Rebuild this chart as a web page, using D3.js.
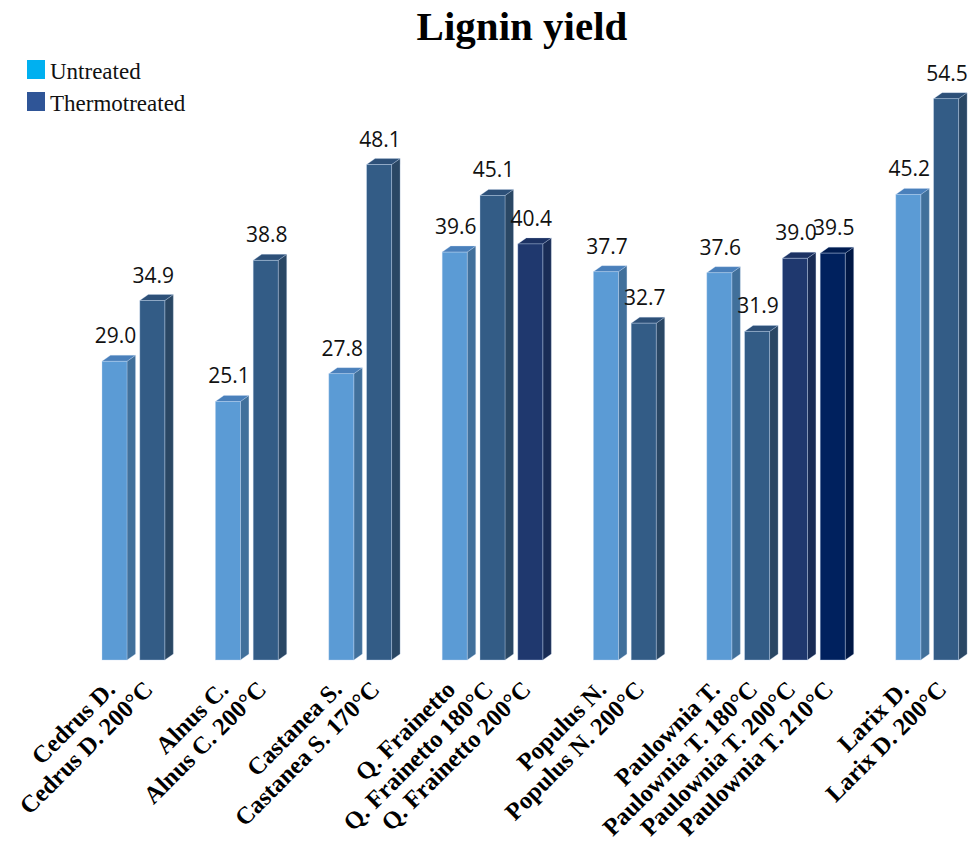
<!DOCTYPE html>
<html>
<head>
<meta charset="utf-8">
<script src="https://cdn.jsdelivr.net/npm/d3@7"></script>
<style>
  body { margin: 0; background: #fff; }
  svg { display: block; }
</style>
</head>
<body>
<div id="chart"></div>
<script>
// Slots along the x axis (null = empty gap between species)
var labels = ["Cedrus D.", "Cedrus D. 200°C", null,
  "Alnus C.", "Alnus C. 200°C", null,
  "Castanea S.", "Castanea S. 170°C", null,
  "Q. Frainetto", "Q. Frainetto 180°C", "Q. Frainetto 200°C", null,
  "Populus N.", "Populus N. 200°C", null,
  "Paulownia T.", "Paulownia T. 180°C", "Paulownia T. 200°C", "Paulownia T. 210°C", null,
  "Larix D.", "Larix D. 200°C"];
var values = [29.0, 34.9, null, 25.1, 38.8, null, 27.8, 48.1, null,
  39.6, 45.1, 40.4, null, 37.7, 32.7, null,
  37.6, 31.9, 39.0, 39.5, null, 45.2, 54.5];
// colour group for each slot: 0 untreated, 1 treated, 2 navy, 3 darkest
var shades = [0, 1, null, 0, 1, null, 0, 1, null, 0, 1, 2, null, 0, 1, null,
  0, 1, 2, 3, null, 0, 1];

var legendNames = ["Untreated", "Thermotreated"];
var legendColors = ["#00b0f0", "#2f5597"];

// front / side / top colours for each shade
var palette = [
  {front: "#5b9bd5", side: "#41709b", top: "#4a80bb"},
  {front: "#335c86", side: "#2a4764", top: "#2d5078"},
  {front: "#1f386e", side: "#192c55", top: "#1c3263"},
  {front: "#00215e", side: "#001744", top: "#001c51"}
];

var width = 975, height = 851;
var depthX = 8.5, depthY = -6;

var svg = d3.select("#chart").append("svg")
  .attr("width", width)
  .attr("height", height);

var x = d3.scaleBand()
  .domain(d3.range(labels.length))
  .range([102, 102 + 37.8 * (labels.length - 0.3386)])
  .paddingInner(0.3386)
  .paddingOuter(0);

var y = d3.scaleLinear()
  .domain([0, 60])
  .range([660, 42]);

// title
svg.append("text")
  .attr("x", 522)
  .attr("y", 40)
  .attr("text-anchor", "middle")
  .style("font-family", "'Liberation Serif', 'Times New Roman', serif")
  .style("font-weight", "bold")
  .style("font-size", "41px")
  .text("Lignin yield");

// legend
var legend = svg.append("g").attr("transform", "translate(27,60)");
legendNames.forEach(function(name, i) {
  legend.append("rect")
    .attr("x", 0).attr("y", i * 32)
    .attr("width", 18).attr("height", 19)
    .attr("fill", legendColors[i]);
  legend.append("text")
    .attr("x", 23).attr("y", i * 32 + 19)
    .style("font-family", "'Liberation Serif', 'Times New Roman', serif")
    .style("font-size", "23px")
    .attr("fill", "#111")
    .text(name);
});

var slots = d3.range(labels.length).filter(function(i) { return values[i] != null; });

var bars = svg.append("g").selectAll("g")
  .data(slots)
  .join("g");

var bw = x.bandwidth();

// side face
bars.append("path")
  .attr("d", function(i) {
    var x1 = x(i) + bw, yt = y(values[i]), yb = y(0);
    return "M" + x1 + "," + yb + "L" + (x1 + depthX) + "," + (yb + depthY) +
      "L" + (x1 + depthX) + "," + (yt + depthY) + "L" + x1 + "," + yt + "Z";
  })
  .attr("fill", function(i) { return palette[shades[i]].side; })
  .attr("stroke", "rgba(200,220,245,0.35)")
  .attr("stroke-width", 0.8);

// top face
bars.append("path")
  .attr("d", function(i) {
    var x0 = x(i), yt = y(values[i]);
    return "M" + x0 + "," + yt + "L" + (x0 + depthX) + "," + (yt + depthY) +
      "L" + (x0 + bw + depthX) + "," + (yt + depthY) + "L" + (x0 + bw) + "," + yt + "Z";
  })
  .attr("fill", function(i) { return palette[shades[i]].top; })
  .attr("stroke", "rgba(200,220,245,0.35)")
  .attr("stroke-width", 0.8);

// front face
bars.append("rect")
  .attr("x", function(i) { return x(i); })
  .attr("y", function(i) { return y(values[i]); })
  .attr("width", bw)
  .attr("height", function(i) { return y(0) - y(values[i]); })
  .attr("fill", function(i) { return palette[shades[i]].front; })
  .attr("stroke", "rgba(200,220,245,0.45)")
  .attr("stroke-width", 0.8);

// value labels
bars.append("text")
  .attr("x", function(i) { return x(i) + bw / 2 + 1; })
  .attr("y", function(i) { return y(values[i]) - 18; })
  .attr("text-anchor", "middle")
  .style("font-family", "'Open Sans', 'Noto Sans', sans-serif")
  .style("font-size", "21px")
  .attr("fill", "#111")
  .text(function(i) { return values[i].toFixed(1); });

// category labels, rotated
svg.append("g").selectAll("text")
  .data(slots)
  .join("text")
  .attr("transform", function(i) {
    return "translate(" + (x(i) + bw / 2 + 2) + ",691) rotate(-45)";
  })
  .attr("text-anchor", "end")
  .style("font-family", "'Liberation Serif', 'Times New Roman', serif")
  .style("font-weight", "bold")
  .style("font-size", "24.5px")
  .attr("fill", "#000")
  .text(function(i) { return labels[i]; });
</script>
</body>
</html>
